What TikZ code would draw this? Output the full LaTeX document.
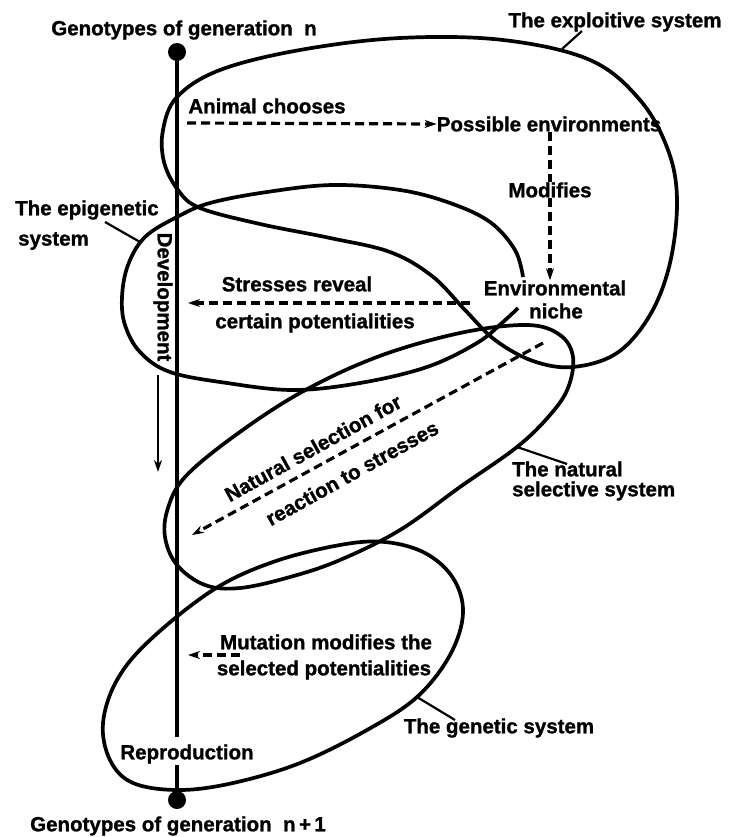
\documentclass[tikz,border=0pt]{standalone}
\usepackage{fontspec}
\setmainfont{Liberation Sans}[BoldFeatures={FakeBold=1.2}]
\usetikzlibrary{arrows.meta}
\begin{document}
\begin{tikzpicture}[x=1pt,y=-1pt,
  sys/.style={line width=3.7pt, line join=round},
  lbl/.style={font=\fontsize{20.5}{23}\selectfont\bfseries, inner sep=0pt},
  dsh/.style={line width=3.2pt, dash pattern=on 9pt off 5pt},
  tip/.style={-{Stealth[length=12pt,width=8pt]}},
  ptr/.style={line width=2.2pt},
  vline/.style={line width=3.2pt},
  dot/.style={circle, fill=black, minimum size=18pt, inner sep=0pt}]
\useasboundingbox (0,0) rectangle (738,837);

% systems
\draw[sys] plot[smooth cycle, tension=0.6] coordinates {(177,97) (163,130) (164,162) (178,190) (200,208) (260,224) (330,238) (390,252) (432,276) (465,310) (495,340) (533,361) (573,367) (617,353) (650,315) (670,263) (677,200) (668,150) (640,100) (590,60) (503,40) (400,38) (300,50) (220,70)};
\draw[sys] plot[smooth, tension=0.6] coordinates {(518,308) (503,322) (477,343) (427,367) (360,383) (293,390) (227,383) (170,372) (140,352) (125,325) (122,297) (128,265) (145,237) (177,217) (210,203) (267,192) (333,185) (400,190) (450,203) (490,222) (515,250) (523,277)};
\draw[sys] plot[smooth cycle, tension=0.6] coordinates {(573,357) (568,388) (550,415) (517,447) (460,487) (400,530) (340,560) (290,577) (240,588) (205,585) (177,565) (165,537) (168,508) (185,477) (233,437) (300,393) (377,357) (460,333) (527,325) (560,335)};
\draw[sys] plot[smooth cycle, tension=0.6] coordinates {(463,613) (450,655) (417,697) (367,730) (300,763) (233,783) (179,790) (133,783) (110,760) (103,723) (117,680) (150,640) (213,590) (273,562) (340,545) (385,542) (425,553) (453,578)};

% main line
\node[dot] (topdot) at (177,52) {};
\node[dot] (botdot) at (177,800) {};
\coordinate (r1) at (177,737);
\coordinate (r2) at (177,765);
\draw[vline] (topdot.center) -- (r1);
\draw[vline] (r2) -- (botdot.center);

% labels
\node[lbl] (gen1) at (184,30) {Genotypes of generation\ \ n};
\node[lbl] (gen2) at (178,826) {Genotypes of generation\ \ n\,+\,1};
\node[lbl] (expl) at (615,22) {The exploitive system};
\node[lbl] (animal) at (267,106) {Animal chooses};
\node[lbl] (poss) at (549,124) {Possible environments};
\node[lbl] (modif) at (550,190) {Modifies};
\node[lbl] (env) at (555,288) {Environmental};
\node[lbl] (niche) at (556,311) {niche};
\node[lbl, anchor=west] (epi1) at (15,210) {The epigenetic};
\node[lbl, anchor=west] (epi2) at (18,241) {system};
\node[lbl, rotate=-90] (devel) at (163,297) {Development};
\node[lbl] (stress) at (297,284) {Stresses reveal};
\node[lbl] (certain) at (315,323) {certain potentialities};
\node[lbl, rotate=29] (nat1) at (313,448) {Natural selection for};
\node[lbl, rotate=29] (nat2) at (352,473) {reaction to stresses};
\node[lbl, anchor=west] (natsel1) at (512,469) {The natural};
\node[lbl, anchor=west] (natsel2) at (512,491) {selective system};
\node[lbl] (mut1) at (326,642) {Mutation modifies the};
\node[lbl] (mut2) at (324,670) {selected potentialities};
\node[lbl] (genet) at (499,728) {The genetic system};
\node[lbl] (repro) at (187,754) {Reproduction};

% arrows
\coordinate (a0) at (187,123);
\draw[dsh, tip] (a0) -- (poss.west);
\draw[dsh] (poss.south -| modif) -- (modif.north);
\draw[dsh, tip] (modif.south) -- (modif.south |- env.north);
\coordinate (s0) at (470,303);
\coordinate (s1) at (188,303);
\draw[dsh, tip] (s0) -- (s1);
\coordinate (d0) at (158,375);
\coordinate (d1) at (158,472);
\draw[line width=2.6pt, tip] (d0) -- (d1);
\coordinate (n0) at (543,343);
\coordinate (n1) at (192,535);
\draw[dsh, tip] (n0) -- (n1);
\coordinate (m0) at (240,655);
\coordinate (m1) at (188,655);
\draw[dsh, tip] (m0) -- (m1);

% pointers
\coordinate (pe0) at (582,31); \coordinate (pe1) at (562,49);
\draw[ptr] (pe0) -- (pe1);
\coordinate (pg0) at (105,222); \coordinate (pg1) at (140,242);
\draw[ptr] (pg0) -- (pg1);
\coordinate (pn0) at (567,464); \coordinate (pn1) at (517,447);
\draw[ptr] (pn0) -- (pn1);
\coordinate (pt0) at (455,720); \coordinate (pt1) at (417,697);
\draw[ptr] (pt0) -- (pt1);
\end{tikzpicture}
\end{document}
